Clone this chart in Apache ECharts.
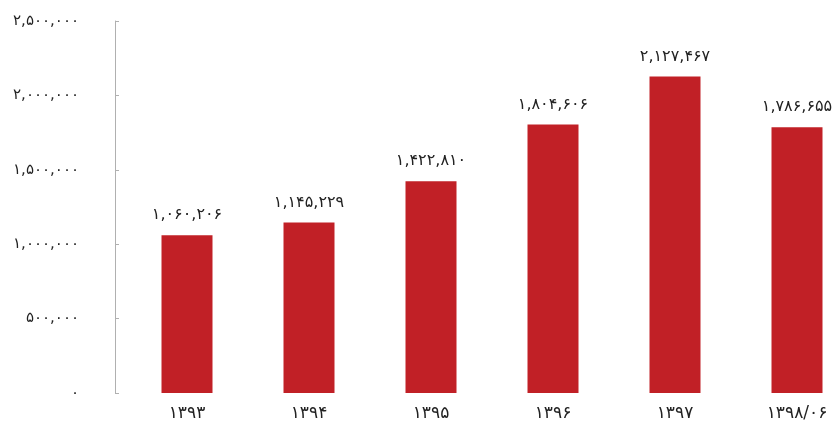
<!DOCTYPE html>
<html><head><meta charset="utf-8">
<script src="https://cdn.jsdelivr.net/npm/echarts@6/dist/echarts.min.js"></script>
<style>html,body{margin:0;padding:0;background:#fff;overflow:hidden}#c{width:858px;height:427px}</style>
</head><body><div id="c"></div>
<script>
var categories = ['۱۳۹۳','۱۳۹۴','۱۳۹۵','۱۳۹۶','۱۳۹۷','۱۳۹۸/۰۶'];
var values = [1060206, 1145229, 1422810, 1804606, 2127467, 1786655];
var yMin = 0, yMax = 2500000, yInterval = 500000;

function fa(n){
  var s = Math.round(n).toString().replace(/\B(?=(\d{3})+(?!\d))/g, ',');
  return s.replace(/\d/g, function(d){ return '۰۱۲۳۴۵۶۷۸۹'[+d]; });
}
var FONT = 'DejaVu Sans';
var chart = echarts.init(document.getElementById('c'));
chart.setOption({
  animation: false,
  grid: {left: 126, right: 0, top: 21, bottom: 34, containLabel: false},
  xAxis: {
    type: 'category', data: categories,
    axisLine: {show: false}, axisTick: {show: false},
    axisLabel: {color: '#222', fontSize: 17, fontFamily: FONT, margin: 12}
  },
  yAxis: {
    type: 'value', min: yMin, max: yMax, interval: yInterval, offset: 11,
    axisLine: {show: true, lineStyle: {color: '#b0b0b0', width: 1}},
    axisTick: {show: true, inside: true, length: 4, lineStyle: {color: '#b0b0b0'}},
    splitLine: {show: false},
    axisLabel: {color: '#222', fontSize: 15, fontFamily: FONT, margin: 36, formatter: fa}
  },
  series: [{
    type: 'bar', data: values, barWidth: 51,
    itemStyle: {color: '#C12026'},
    label: {show: true, position: 'top', distance: 12, color: '#222', fontSize: 16, fontFamily: FONT,
      formatter: function(p){ return fa(p.value); }}
  }]
});
</script></body></html>
